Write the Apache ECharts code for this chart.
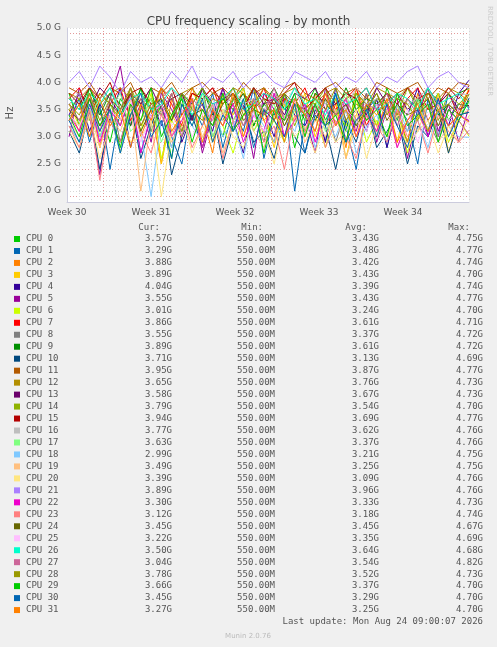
<!DOCTYPE html>
<html><head><meta charset="utf-8">
<script src="https://cdn.jsdelivr.net/npm/echarts@6/dist/echarts.min.js"></script>
<style>html,body{margin:0;padding:0;background:#f0f0f0}#c{width:497px;height:647px}</style>
</head><body><div id="c"></div>
<script>
const names=[];for(let i=0;i<32;i++)names.push('CPU '+i);
const colors=['#00CC00','#0066B3','#FF8000','#FFCC00','#330099','#990099','#CCFF00','#FF0000','#808080','#008F00','#00487D','#B35A00','#B38F00','#6B006B','#8FB300','#B30000','#BEBEBE','#80FF80','#80C9FF','#FFC080','#FFE680','#AA80FF','#EE00CC','#FF8080','#666600','#FFBFFF','#00FFCC','#CC6699','#999900','#00CC00','#0066B3','#FF8000'];
const curV=['3.57G','3.29G','3.88G','3.89G','4.04G','3.55G','3.01G','3.86G','3.55G','3.89G','3.71G','3.95G','3.65G','3.58G','3.79G','3.94G','3.77G','3.63G','2.99G','3.49G','3.39G','3.89G','3.30G','3.12G','3.45G','3.22G','3.50G','3.04G','3.78G','3.66G','3.45G','3.27G'];
const minV=Array(32).fill('550.00M');
const avgV=['3.43G','3.48G','3.42G','3.43G','3.39G','3.43G','3.24G','3.61G','3.37G','3.61G','3.13G','3.87G','3.76G','3.67G','3.54G','3.69G','3.62G','3.37G','3.21G','3.25G','3.09G','3.96G','3.33G','3.18G','3.45G','3.35G','3.64G','3.54G','3.52G','3.37G','3.29G','3.25G'];
const maxV=['4.75G','4.77G','4.74G','4.70G','4.74G','4.77G','4.70G','4.71G','4.72G','4.72G','4.69G','4.77G','4.73G','4.73G','4.70G','4.77G','4.76G','4.76G','4.75G','4.75G','4.76G','4.76G','4.73G','4.74G','4.67G','4.69G','4.68G','4.82G','4.73G','4.70G','4.70G','4.70G'];
const weekLabels=['Week 30','Week 31','Week 32','Week 33','Week 34'];
const yTicks=['2.0 G','2.5 G','3.0 G','3.5 G','4.0 G','4.5 G','5.0 G'];
// values in GHz, 40 samples each, across the month
const s0=[3.8,3.2,3.9,3.5,2.9,3.7,3.4,3.9,3.1,3.6,2.6,3.8,3.3,3.9,3.5,3.0,3.7,3.9,3.2,3.6,3.4,3.8,2.8,3.5,3.9,3.3,3.7,3.1,3.8,3.6,3.2,3.9,3.4,2.9,3.7,3.5,3.8,3.3,3.6,3.57];
const s1=[3.3,3.7,2.9,3.6,2.4,3.5,3.8,2.7,3.4,3.9,3.0,2.5,3.6,3.2,3.8,2.8,3.5,3.1,3.9,2.6,3.4,3.7,2.0,3.3,3.6,2.9,3.8,3.2,2.4,3.5,3.7,2.8,3.6,3.3,2.5,3.7,3.0,3.8,3.4,3.29];
const s2=[3.5,3.1,3.8,2.8,3.6,3.3,3.9,3.0,3.5,2.5,3.7,3.2,3.9,3.4,2.7,3.8,3.1,3.6,3.9,3.3,2.9,3.7,3.5,3.0,3.8,3.2,3.6,2.8,3.9,3.4,3.1,3.7,3.5,2.9,3.8,3.3,3.6,3.0,3.5,3.88];
const s3=[3.6,3.2,3.8,3.0,3.5,2.7,3.7,3.3,3.9,2.5,3.4,3.1,3.8,3.6,2.9,3.7,3.4,3.9,3.1,3.5,2.8,3.6,3.3,3.8,3.0,3.5,3.7,2.6,3.4,3.8,3.2,3.6,2.9,3.7,3.5,3.1,3.8,2.7,3.4,3.89];
const s4=[3.4,3.8,3.1,3.6,3.3,3.9,2.8,3.5,3.7,3.2,3.8,2.9,3.4,3.6,3.1,3.9,3.3,2.7,3.7,3.5,3.0,3.8,3.4,3.2,3.6,2.9,3.9,3.3,3.5,3.1,3.7,2.8,3.6,3.4,3.9,3.0,3.5,3.2,3.8,4.04];
const s5=[3.0,3.9,3.4,2.3,3.7,4.3,3.2,3.6,2.9,3.8,3.5,3.1,3.7,2.7,3.4,3.9,3.3,3.6,2.6,3.8,3.5,3.0,3.7,3.4,2.7,3.9,3.2,3.6,3.1,3.8,2.9,3.5,3.7,2.6,3.4,3.9,3.1,3.6,2.9,3.55];
const s6=[3.2,2.9,3.6,3.0,3.4,2.7,3.5,3.1,3.8,2.6,3.3,3.0,3.6,2.8,3.5,3.2,2.7,3.4,3.7,3.0,3.3,2.9,3.6,3.1,3.4,2.8,3.5,3.2,3.7,2.9,3.3,3.0,3.6,2.7,3.4,3.1,3.5,2.9,3.3,3.01];
const s7=[3.7,3.9,3.4,3.8,3.6,3.9,3.3,3.7,3.5,3.9,3.6,3.2,3.8,3.7,3.9,3.4,3.6,3.8,3.5,3.9,3.3,3.7,3.6,3.9,3.4,3.8,3.5,3.7,3.9,3.2,3.6,3.8,3.4,3.7,3.9,3.5,3.6,3.8,3.4,3.86];
const s8=[3.3,3.6,3.0,3.5,3.8,2.9,3.4,3.7,3.1,3.5,2.8,3.6,3.3,3.9,3.0,3.4,3.7,3.2,3.5,2.9,3.8,3.3,3.6,3.1,3.4,3.7,2.9,3.5,3.2,3.8,3.0,3.6,3.4,3.1,3.7,3.3,2.9,3.5,3.6,3.55];
const s9=[3.7,3.5,3.9,3.4,3.8,3.6,3.2,3.9,3.5,3.7,3.3,3.8,3.6,3.9,3.4,3.7,3.5,3.8,3.2,3.6,3.9,3.5,3.7,3.3,3.8,3.6,3.4,3.9,3.5,3.7,3.6,3.8,3.3,3.7,3.5,3.9,3.4,3.6,3.8,3.89];
const s10=[3.1,2.7,3.5,2.4,3.3,2.9,3.6,2.6,3.2,3.7,2.3,3.0,3.4,2.8,3.5,2.5,3.2,3.6,2.9,3.1,2.6,3.4,3.0,2.7,3.5,3.2,2.4,3.3,2.9,3.6,2.8,3.1,3.4,2.5,3.2,3.0,3.5,2.7,3.3,3.71];
const s11=[3.9,3.8,4.0,3.7,3.9,3.8,4.0,3.6,3.9,3.8,4.0,3.7,3.9,4.0,3.8,3.9,3.7,4.0,3.8,3.9,3.6,3.9,4.0,3.8,3.7,3.9,4.0,3.8,3.9,3.7,4.0,3.9,3.8,3.9,4.0,3.7,3.9,3.8,4.0,3.95];
const s12=[3.8,3.7,3.9,3.6,3.8,3.9,3.7,3.8,3.5,3.9,3.7,3.8,3.9,3.6,3.8,3.7,3.9,3.8,3.6,3.9,3.7,3.8,3.9,3.7,3.6,3.8,3.9,3.7,3.8,3.6,3.9,3.8,3.7,3.9,3.6,3.8,3.7,3.9,3.8,3.65];
const s13=[3.6,3.8,3.5,3.9,3.7,3.4,3.8,3.6,3.9,3.5,3.7,3.8,3.3,3.9,3.6,3.7,3.8,3.5,3.9,3.6,3.7,3.4,3.8,3.7,3.9,3.5,3.6,3.8,3.7,3.4,3.9,3.6,3.8,3.5,3.7,3.9,3.6,3.8,3.5,3.58];
const s14=[3.5,3.7,3.3,3.8,3.6,3.2,3.9,3.5,3.7,3.4,3.8,3.1,3.6,3.9,3.5,3.3,3.7,3.6,3.9,3.4,3.5,3.8,3.2,3.7,3.6,3.9,3.4,3.5,3.8,3.3,3.7,3.6,3.4,3.9,3.5,3.7,3.3,3.8,3.6,3.79];
const s15=[3.8,3.6,3.9,3.7,4.0,3.5,3.8,3.9,3.6,3.7,3.9,3.4,3.8,3.7,3.9,3.6,3.8,3.5,3.9,3.7,3.6,3.8,4.0,3.5,3.7,3.9,3.6,3.8,3.7,3.9,3.5,3.8,3.6,3.9,3.7,3.8,3.6,3.9,3.7,3.94];
const s16=[3.6,3.8,3.4,3.7,3.9,3.5,3.6,3.8,3.3,3.7,3.9,3.6,3.5,3.8,3.7,3.4,3.9,3.6,3.7,3.5,3.8,3.6,3.9,3.4,3.7,3.6,3.8,3.5,3.9,3.6,3.7,3.4,3.8,3.6,3.7,3.9,3.5,3.6,3.8,3.77];
const s17=[3.4,3.2,3.6,3.0,3.5,3.8,3.1,3.3,3.7,2.9,3.4,3.6,3.2,3.8,3.0,3.5,3.3,3.7,3.1,3.4,3.6,2.9,3.5,3.3,3.7,3.1,3.4,3.8,3.2,3.5,3.0,3.6,3.3,3.4,3.7,3.1,3.5,3.2,3.4,3.63];
const s18=[3.2,2.9,3.5,3.0,3.4,2.7,3.6,3.1,1.9,3.3,2.8,3.5,3.2,2.9,3.6,3.0,3.3,2.6,3.5,3.2,2.9,3.4,3.1,3.6,2.8,3.3,3.0,3.5,2.7,3.2,3.4,2.9,3.6,3.1,3.3,2.8,3.5,3.2,3.0,2.99];
const s19=[3.3,3.0,3.5,2.8,3.4,3.1,3.6,2.0,3.3,3.5,2.9,3.2,3.6,3.0,3.4,2.7,3.3,3.5,3.1,2.8,3.4,3.2,3.6,2.9,3.3,3.0,3.5,2.6,3.2,3.4,3.0,3.5,2.8,3.3,3.1,3.6,2.9,3.2,3.4,3.49];
const s20=[3.1,2.8,3.4,2.6,3.2,3.5,2.9,3.0,3.3,1.9,3.1,3.4,2.7,3.2,2.9,3.5,3.0,2.8,3.3,3.1,2.5,3.4,3.0,3.2,2.7,3.3,2.9,3.1,3.5,2.6,3.2,3.0,3.4,2.8,3.1,3.3,2.7,3.2,2.9,3.39];
const s21=[4.0,4.2,3.9,4.3,4.1,3.8,4.2,4.0,4.1,3.9,4.2,4.0,4.3,3.9,4.1,4.0,4.2,3.9,4.1,4.2,4.0,3.9,4.2,4.1,4.0,4.2,3.9,4.1,4.0,4.2,3.9,4.1,4.0,4.2,4.3,3.9,4.1,4.2,4.0,3.89];
const s22=[3.4,3.1,3.7,2.9,3.5,3.2,3.8,2.7,3.4,3.6,3.0,3.3,3.7,2.8,3.5,3.2,3.6,2.9,3.4,3.1,3.8,3.0,3.3,3.6,2.9,3.5,3.2,3.7,3.0,3.4,3.1,3.6,2.8,3.3,3.5,3.0,3.7,3.2,3.4,3.30];
const s23=[3.2,2.8,3.5,2.2,3.3,2.9,3.6,3.1,2.7,3.4,3.0,3.5,2.8,3.2,3.6,2.6,3.3,3.0,3.5,2.9,3.2,2.4,3.4,3.1,3.6,2.8,3.3,3.0,2.6,3.4,3.2,2.9,3.5,3.0,3.3,2.7,3.4,3.1,2.9,3.12];
const s24=[3.5,3.3,3.7,3.2,3.6,3.4,3.8,3.1,3.5,3.6,3.3,3.7,3.4,3.5,3.2,3.6,3.8,3.3,3.5,3.4,3.7,3.2,3.6,3.5,3.3,3.7,3.4,3.6,3.2,3.5,3.8,3.3,3.6,3.4,3.5,3.7,3.2,3.6,3.4,3.45];
const s25=[3.4,3.2,3.6,3.1,3.5,3.3,3.7,2.9,3.4,3.6,3.2,3.5,3.0,3.4,3.7,3.3,3.2,3.6,3.4,3.1,3.5,3.3,3.7,3.0,3.4,3.6,3.2,3.5,3.3,3.1,3.6,3.4,3.2,3.5,2.9,3.4,3.6,3.3,3.5,3.22];
const s26=[3.7,3.5,3.8,3.6,3.9,3.4,3.7,3.8,3.5,3.6,3.9,3.7,3.4,3.8,3.6,3.7,3.9,3.5,3.6,3.8,3.7,3.5,3.9,3.6,3.7,3.4,3.8,3.6,3.7,3.9,3.5,3.6,3.8,3.7,3.5,3.9,3.6,3.7,3.8,3.50];
const s27=[3.6,3.3,3.8,3.1,3.7,3.5,3.9,3.2,3.6,3.4,3.8,3.0,3.7,3.5,3.3,3.8,3.6,3.2,3.7,3.4,3.9,3.3,3.6,3.5,3.1,3.8,3.4,3.7,3.3,3.6,3.5,3.8,3.2,3.7,3.4,3.6,3.0,3.5,3.3,3.04];
const s28=[3.6,3.4,3.8,3.3,3.7,3.5,3.9,3.2,3.6,3.7,3.4,3.8,3.5,3.3,3.7,3.6,3.9,3.4,3.5,3.7,3.3,3.8,3.6,3.4,3.7,3.5,3.9,3.3,3.6,3.5,3.8,3.4,3.7,3.6,3.3,3.8,3.5,3.6,3.4,3.78];
const s29=[3.4,3.0,3.7,3.2,3.5,2.8,3.6,3.3,3.9,3.0,3.4,3.7,2.9,3.5,3.2,3.8,3.1,3.4,3.6,2.7,3.5,3.3,3.8,3.0,3.6,3.2,3.4,2.9,3.7,3.3,3.5,3.0,3.8,3.2,3.4,3.6,2.9,3.5,3.3,3.66];
const s30=[3.3,2.9,3.6,3.1,3.5,2.7,3.4,3.8,3.0,3.3,2.6,3.6,3.2,3.7,2.9,3.4,3.1,3.7,2.8,3.5,3.3,3.0,3.6,2.7,3.4,3.2,3.8,2.9,3.3,3.5,3.0,3.6,3.2,2.8,3.5,3.1,3.7,3.0,3.4,3.45];
const s31=[3.3,3.6,3.0,3.7,3.2,3.5,2.8,3.6,3.3,3.9,3.1,3.4,3.7,2.9,3.5,3.2,3.8,3.0,3.6,3.3,3.5,2.9,3.7,3.4,3.1,3.8,3.2,3.5,3.0,3.6,3.4,3.7,2.9,3.3,3.6,3.1,3.5,3.2,3.4,3.27];
const seriesData=[s0,s1,s2,s3,s4,s5,s6,s7,s8,s9,s10,s11,s12,s13,s14,s15,s16,s17,s18,s19,s20,s21,s22,s23,s24,s25,s26,s27,s28,s29,s30,s31];

const X0=-7.66, X1=59; // half-day units, week boundaries at multiples of 14
const chart=echarts.init(document.getElementById('c'),null,{renderer:'canvas'});
const series=seriesData.map((d,i)=>({name:names[i],type:'line',xAxisIndex:0,yAxisIndex:0,symbol:'none',silent:true,animation:false,
  lineStyle:{width:1,color:colors[i]},data:d.map((v,k)=>[X0+(X1-X0)*k/(d.length-1),v])}));
const tx=(x,y,t,o)=>Object.assign({type:'text',x,y,style:Object.assign({text:t,fill:'#555',font:'9px "DejaVu Sans Mono"'},o||{})});
const g=[];
const hdr=[['Cur:',160],['Min:',263],['Avg:',367],['Max:',470]];
hdr.forEach(h=>g.push(tx(h[1],228,h[0],{textAlign:'right',textVerticalAlign:'middle'})));
names.forEach((n,i)=>{const y=239+i*11.97;
  g.push({type:'rect',shape:{x:14,y:y-3,width:6,height:6},style:{fill:colors[i]}});
  g.push(tx(26,y,n,{textVerticalAlign:'middle'}));
  [[curV,172],[minV,275],[avgV,379],[maxV,483]].forEach(c=>g.push(tx(c[1],y,c[0][i],{textAlign:'right',textVerticalAlign:'middle'})));
});
g.push(tx(483,622,'Last update: Mon Aug 24 09:00:07 2026',{textAlign:'right',textVerticalAlign:'middle'}));
g.push({type:'text',x:248,y:636,style:{text:'Munin 2.0.76',fill:'#bbb',font:'7px "DejaVu Sans"',textAlign:'center',textVerticalAlign:'middle'}});
g.push({type:'text',x:490,y:6,rotation:-Math.PI/2,style:{text:'RRDTOOL / TOBI OETIKER',fill:'#ccc',font:'7px "DejaVu Sans"',textVerticalAlign:'middle'}});
g.push({type:'text',x:10,y:113,rotation:Math.PI/2,style:{text:'Hz',fill:'#555',font:'10px "DejaVu Sans"',textAlign:'center',textVerticalAlign:'middle'}});
const R='#e49a9a', G='#d8d8d8';
chart.setOption({
  animation:false,backgroundColor:'#f0f0f0',
  title:{text:'CPU frequency scaling - by month',left:'center',top:11,textStyle:{fontFamily:'DejaVu Sans',fontSize:12,fontWeight:'normal',color:'#444'}},
  grid:{left:67,right:28,top:28,bottom:445,containLabel:false,backgroundColor:'#fff',show:true,borderWidth:0},
  xAxis:[{type:'value',min:-8,max:59,interval:2,axisLabel:{show:false},axisTick:{show:false},
     axisLine:{onZero:false,lineStyle:{color:'#ccd'}},splitLine:{show:true,lineStyle:{type:[1,2],width:1,color:[G,G,G,R,G,G,G]}}},
    {type:'value',position:'bottom',min:-7,max:60,interval:14,axisLine:{show:false},axisTick:{show:false},splitLine:{show:false},
     axisLabel:{color:'#555',fontFamily:'DejaVu Sans',fontSize:9,margin:6,formatter:v=>weekLabels[(v+7)/14]||''}}],
  yAxis:{type:'value',min:1.8,max:5.0,interval:0.1,axisTick:{show:false},axisLine:{show:true,onZero:false,lineStyle:{color:'#ccd'}},
    axisLabel:{color:'#555',fontFamily:'DejaVu Sans',fontSize:9,margin:6,formatter:v=>{const k=Math.round(v*10);return k%5===0?yTicks[(k-20)/5]||'':'';}},
    splitLine:{show:true,lineStyle:{type:[1,2],width:1,color:[G,R,G,G,G]}}},
  graphic:g,
  series
});
</script></body></html>
